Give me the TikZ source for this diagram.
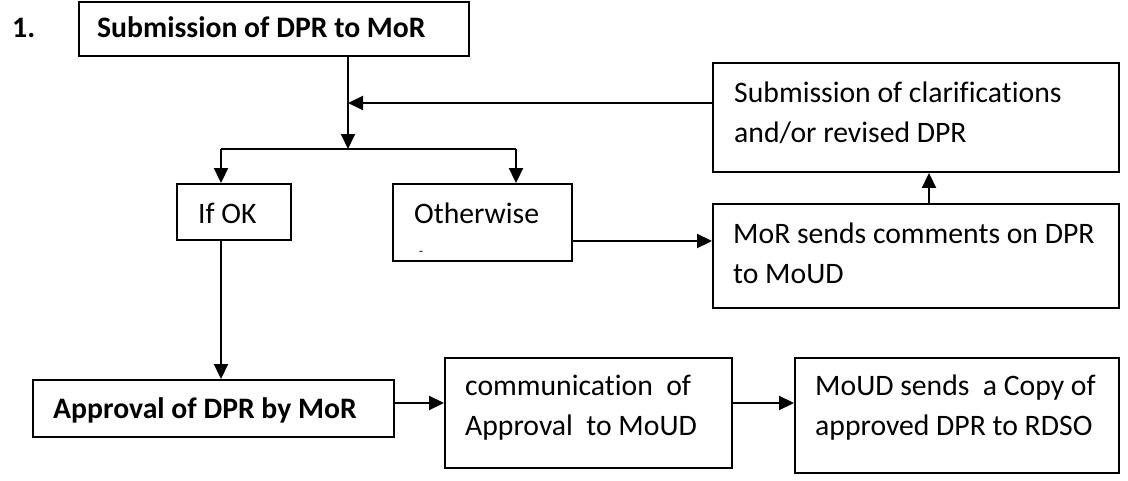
\documentclass[tikz,border=0pt]{standalone}
\usepackage{fontspec}
\setmainfont{Carlito}[RawFeature={-liga}]
\usetikzlibrary{arrows.meta}
\tikzset{
  box/.style={draw, line width=1.9pt, inner sep=0pt},
  txt/.style={anchor=base west, inner sep=0pt, font=\fontsize{29.7}{40}\selectfont},
  btxt/.style={txt, font=\fontsize{29.7}{40}\selectfont\bfseries},
  arr/.style={line width=1.9pt, -{Triangle[length=15pt,width=14pt]}},
  ln/.style={line width=1.9pt}
}
\newcommand{\boxat}[5]{\node[box, minimum width=#4-#2, minimum height=#5-#3] (#1) at ({(#2+#4)/2},{(#3+#5)/2}) {};}
\begin{document}
\begin{tikzpicture}[x=1pt,y=-1pt]
\useasboundingbox (0,0) rectangle (1128,480);
% boxes
\boxat{sub}{79}{2}{469}{56}
\boxat{clar}{713}{63}{1119}{172}
\boxat{ok}{177}{184}{291}{240}
\boxat{oth}{393}{184}{572}{261}
\boxat{mor}{713}{204}{1119}{308}
\boxat{appr}{33}{380}{394}{437}
\boxat{comm}{445}{358}{732}{468}
\boxat{moud}{795}{358}{1119}{473}
% texts
\node[btxt] (num) at (12,37) {1.};
\node[btxt] (subt) at (97,37) {Submission of DPR to MoR};
\node[txt] (clart1) at (734,102) {Submission of clarifications};
\node[txt] (clart2) at (734,142) {and/or revised DPR};
\node[txt] (okt) at (198,223) {If OK};
\node[txt] (otht) at (414,223) {Otherwise};
\node[anchor=base west, inner sep=0pt, font=\fontsize{13}{13}\selectfont] (othd) at (419,255) {-};
\node[txt] (mort1) at (733,243) {MoR sends comments on DPR};
\node[txt] (mort2) at (733,283) {to MoUD};
\node[btxt] (apprt) at (53,418) {Approval of DPR by MoR};
\node[txt] (commt1) at (465,395) {communication\ \ of};
\node[txt] (commt2) at (465,435) {Approval\ \ to MoUD};
\node[txt] (moudt1) at (815,395) {MoUD sends\ \ a Copy of};
\node[txt] (moudt2) at (815,435) {approved DPR to RDSO};
% coordinates
\coordinate (split) at (348,149);
\coordinate (join) at (348,103);
\coordinate (lb) at (221,149);
\coordinate (rb) at (516,149);
\coordinate (om) at (600,241);
\coordinate (mc) at (929,190);
\coordinate (bot) at (600,403);
% connectors
\draw[arr] (sub.south -| split) -- (split);
\draw[arr] (clar.west |- join) -- (join);
\draw[ln] (lb) -- (rb);
\draw[arr] (lb) -- (ok.north -| lb);
\draw[arr] (rb) -- (oth.north -| rb);
\draw[arr] (ok.south -| lb) -- (appr.north -| lb);
\draw[arr] (oth.east |- om) -- (mor.west |- om);
\draw[arr] (mor.north -| mc) -- (clar.south -| mc);
\draw[arr] (appr.east |- bot) -- (comm.west |- bot);
\draw[arr] (comm.east |- bot) -- (moud.west |- bot);
\end{tikzpicture}
\end{document}
